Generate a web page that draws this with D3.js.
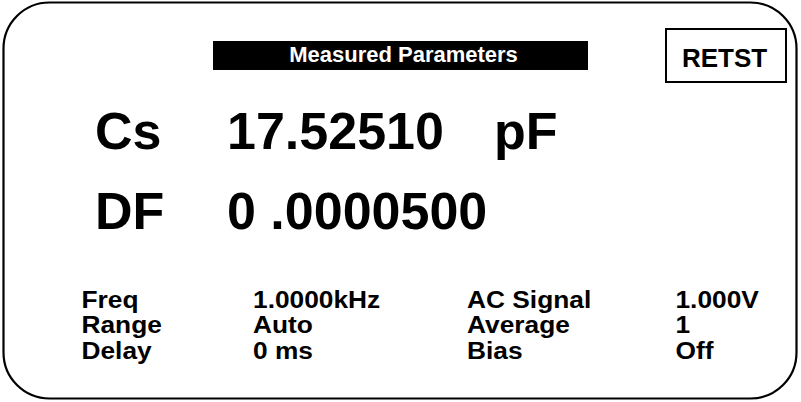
<!DOCTYPE html>
<html>
<head>
<meta charset="utf-8">
<script src="https://cdn.jsdelivr.net/npm/d3@7"></script>
<style>
  html, body { margin: 0; padding: 0; background: #fff; }
  svg { display: block; }
  text { font-family: "Liberation Sans", Arial, Helvetica, sans-serif; font-weight: bold; white-space: pre; }
</style>
</head>
<body>
<svg id="chart" width="801" height="402"></svg>
<script>
// ---- data ----
const headerTitle = "Measured Parameters";
const statusLabel = "RETST";
const primaryLabels = ["Cs", "DF"];
const primaryValues = ["17.52510", "0 .0000500"];
const primaryUnits = ["pF", ""];
const leftParamLabels = ["Freq", "Range", "Delay"];
const leftParamValues = ["1.0000kHz", "Auto", "0 ms"];
const rightParamLabels = ["AC Signal", "Average", "Bias"];
const rightParamValues = ["1.000V", "1", "Off"];

// ---- layout ----
const svg = d3.select("#chart");

// outer rounded frame
svg.append("rect")
  .attr("x", 3.5).attr("y", 2.5)
  .attr("width", 793).attr("height", 396)
  .attr("rx", 46).attr("ry", 46)
  .attr("fill", "#fff").attr("stroke", "#000").attr("stroke-width", 2.2);

// header bar
svg.append("rect")
  .attr("x", 213).attr("y", 41).attr("width", 375).attr("height", 29)
  .attr("fill", "#000");
svg.append("text")
  .attr("x", 403.5).attr("y", 62)
  .attr("text-anchor", "middle")
  .attr("fill", "#fff")
  .style("font-size", "22px")
  .text(headerTitle);

// status box
svg.append("rect")
  .attr("x", 666).attr("y", 29).attr("width", 120).attr("height", 53)
  .attr("fill", "none").attr("stroke", "#000").attr("stroke-width", 2);
svg.append("text")
  .attr("x", 724.5).attr("y", 67)
  .attr("text-anchor", "middle")
  .attr("fill", "#000")
  .style("font-size", "26px")
  .text(statusLabel);

// primary readouts
const yPrimary = d3.scalePoint().domain(primaryLabels).range([149, 229]);
const primary = svg.append("g").selectAll("g")
  .data(primaryLabels.map((l, i) => ({ label: l, value: primaryValues[i], unit: primaryUnits[i] })))
  .join("g")
  .attr("transform", d => `translate(0,${yPrimary(d.label)})`);
primary.append("text").attr("x", 95).style("font-size", "52px").text(d => d.label);
primary.append("text").attr("x", 227).style("font-size", "52px").text(d => d.value);
primary.append("text").attr("x", 494).style("font-size", "52px").text(d => d.unit);

// parameter table (slightly wide-set type, as in the reference)
const sx = 1.12;
const yParam = d3.scalePoint().domain(d3.range(leftParamLabels.length)).range([308, 359]);
const cols = [
  { x: 81.5, vals: leftParamLabels },
  { x: 253, vals: leftParamValues },
  { x: 467, vals: rightParamLabels },
  { x: 675.5, vals: rightParamValues }
];
const table = svg.append("g").attr("transform", `scale(${sx},1)`);
cols.forEach(c => {
  table.append("g").selectAll("text")
    .data(c.vals)
    .join("text")
    .attr("x", c.x / sx)
    .attr("y", (d, i) => yParam(i))
    .style("font-size", "23.5px")
    .text(d => d);
});
</script>
</body>
</html>
